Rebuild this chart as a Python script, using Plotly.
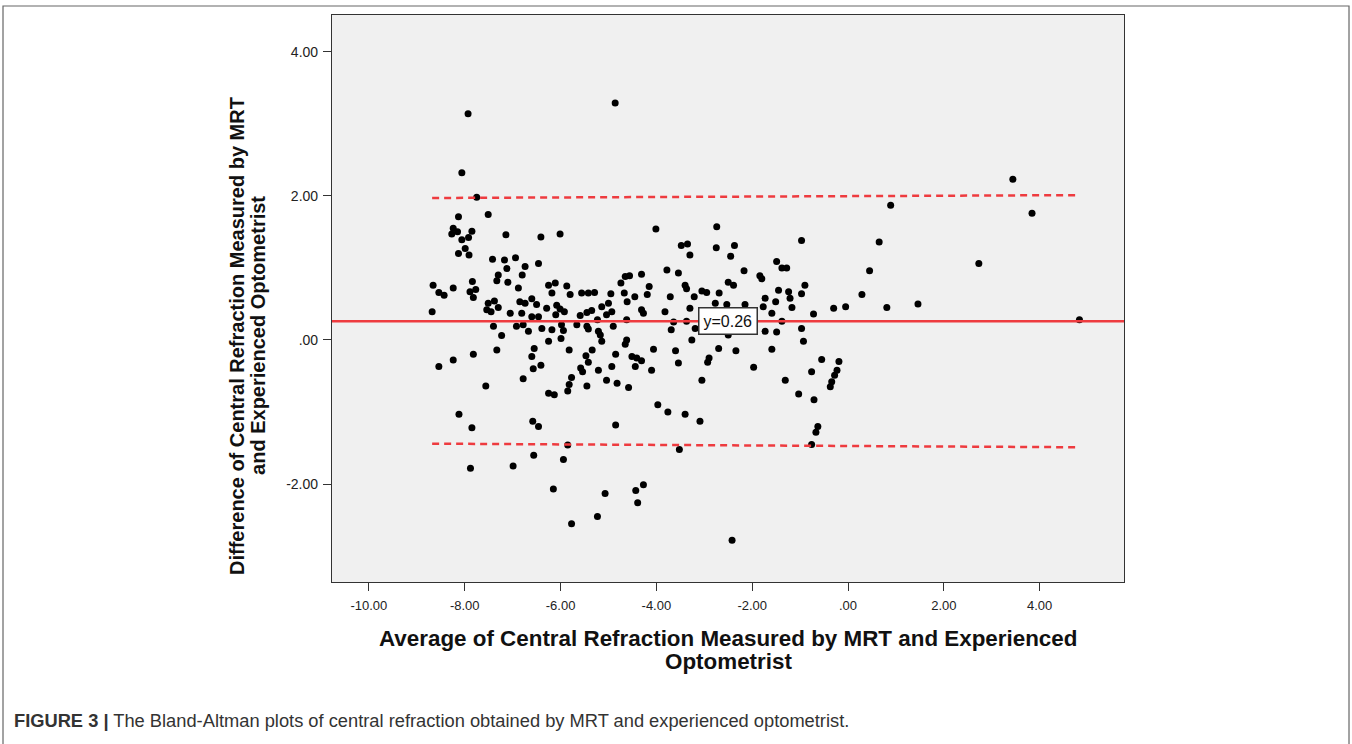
import plotly.graph_objects as go

# Average of central refraction (MRT & optometrist), D
avg_refraction = [
    -7.75, -8.13, -7.51, -8.24, -8.27, -8.15, -8.06, -7.92, -7.85, -7.99, -8.13, -7.91,
    -7.14, -6.41, -6.01, -4.01, -2.74, -3.48, -3.35, -3.30, -2.75, -2.37, -2.45, -0.97,
    -7.42, -7.17, -6.94, -6.46, -6.74, -7.12, -7.30, -7.33, -6.80, -7.10, -6.88, -7.84,
    -7.89, -7.77, -7.82, -8.66, -8.54, -8.43, -8.24, -3.78, -3.54, -2.17, -1.49, -1.38,
    -1.28, -1.84, -1.80,
    -6.25, -6.11, -6.18, -5.87, -5.80, -5.56, -5.42, -5.29, -4.95, -4.74, -4.65, -4.56,
    -4.31, -4.67, -4.61, -4.45, -4.15, -4.19, -3.40, -3.37, -3.21, -3.05, -2.95, -2.69,
    -2.50, -2.39, -3.71, -1.24, -1.45, -1.51, -1.21, -0.90, -0.97, -1.73, 0.29,
    -7.51, -7.38, -7.54, -7.30, -7.45, -6.85, -6.74, -6.60, -6.50, -7.05, -6.81, -6.60,
    -6.46, -6.29, -6.08, -6.01, -5.92, -6.10, -5.14, -5.00, -5.04, -4.93, -5.35, -5.45,
    -5.59, -4.31, -4.27, -3.82, -3.30, -2.77, -2.53, -2.15, -1.77, -1.59, -1.17, -0.72,
    -0.30, -0.05, -8.68,
    -7.40, -6.92, -6.78, -6.67, -6.39, -6.18, -5.98, -5.94, -5.99, -5.66, -5.45, -5.42,
    -5.23, -5.21, -5.17, -5.14, -4.90, -4.62, -3.64, -3.37, -3.19, -3.69, -3.26, -2.50,
    -1.73, -1.49, -1.38, -0.97, -0.93, -7.23,
    -6.25, -7.33, -7.82, -8.24, -8.54, -5.82, -6.60, -6.55, -6.41, -6.57, -5.34, -5.47,
    -5.42, -5.58, -5.54, -5.21, -4.85, -4.93, -4.62, -4.65, -4.51, -4.41, -4.31, -4.44,
    -4.10, -4.06, -3.60, -3.54, -2.70, -2.34, -2.90, -2.93, -1.59, -1.97, -0.55, -0.19,
    -0.23, -0.28, -0.34, -0.37, -0.76, -1.31,
    -6.78, -7.56, -5.77, -5.82, -5.85, -5.45, -5.04, -4.82, -4.58, -3.05, -6.25, -6.13,
    -8.12, -7.85, -6.58, -6.46, -4.85, -3.97, -3.76, -3.40, -3.09, -1.03, -0.71, -0.63,
    -0.67,
    -7.93, -8.06, -4.86,
    0.45, 0.65, 0.89, 0.81, 1.46, 2.73, 3.44, 3.84, 4.83,
    -6.56, -7.88, -6.99, -6.15, -5.85, -5.94, -3.52, -5.07, -4.43, -4.27, -4.39, -5.23,
    -5.77, -0.76, -2.42,
]

# Difference of central refraction (MRT - optometrist), D
diff_refraction = [
    1.98, 1.71, 1.74, 1.55, 1.47, 1.50, 1.39, 1.42, 1.51, 1.27, 1.20, 1.18,
    1.46, 1.43, 1.47, 1.54, 1.57, 1.31, 1.33, 1.18, 1.28, 1.31, 1.16, 1.38,
    1.12, 1.11, 1.14, 1.06, 1.02, 0.99, 0.90, 0.82, 0.90, 0.80, 0.72, 0.81,
    0.67, 0.70, 0.59, 0.76, 0.66, 0.62, 0.72, 0.97, 0.93, 0.96, 1.09, 1.00,
    1.00, 0.89, 0.85,
    0.76, 0.79, 0.65, 0.75, 0.63, 0.65, 0.65, 0.66, 0.64, 0.79, 0.88, 0.89,
    0.91, 0.65, 0.53, 0.60, 0.74, 0.63, 0.76, 0.71, 0.60, 0.68, 0.66, 0.65,
    0.80, 0.76, 0.60, 0.67, 0.69, 0.53, 0.58, 0.76, 0.64, 0.58, 0.63,
    0.51, 0.54, 0.42, 0.45, 0.39, 0.53, 0.51, 0.57, 0.49, 0.37, 0.37, 0.32,
    0.32, 0.44, 0.48, 0.43, 0.39, 0.35, 0.46, 0.51, 0.35, 0.39, 0.41, 0.38,
    0.34, 0.42, 0.37, 0.39, 0.44, 0.51, 0.49, 0.49, 0.46, 0.37, 0.45, 0.36,
    0.44, 0.46, 0.39,
    0.19, 0.19, 0.21, 0.12, 0.16, 0.14, 0.21, 0.13, 0.02, 0.21, 0.19, 0.15,
    0.28, 0.12, 0.07, -0.02, 0.19, 0.28, 0.25, 0.26, 0.16, 0.14, 0.00, 0.07,
    0.12, 0.11, 0.26, 0.16, -0.02, 0.06,
    -0.02, -0.14, -0.20, -0.28, -0.37, -0.14, -0.23, -0.12, -0.35, -0.40, -0.14, -0.22,
    -0.31, -0.39, -0.44, -0.42, -0.20, -0.37, 0.00, -0.06, -0.23, -0.25, -0.29, -0.37,
    -0.42, -0.13, -0.15, -0.32, -0.12, -0.15, -0.25, -0.31, -0.13, -0.38, -0.27, -0.30,
    -0.42, -0.49, -0.58, -0.65, -0.44, -0.56,
    -0.54, -0.64, -0.52, -0.62, -0.71, -0.64, -0.56, -0.60, -0.66, -0.56, -0.74, -0.76,
    -1.03, -1.22, -1.13, -1.20, -1.18, -0.90, -1.00, -1.03, -1.13, -0.75, -0.83, -1.20,
    -1.28,
    3.14, 2.32, 3.29,
    0.96, 1.36, 1.87, 0.45, 0.50, 1.06, 2.23, 1.76, 0.28,
    -1.60, -1.78, -1.75, -2.07, -1.46, -1.66, -1.52, -2.13, -2.09, -2.01, -2.26, -2.45,
    -2.55, -1.45, -2.78,
]

mean_diff = 0.26
upper_loa = [1.97, 2.01]   # value at left end, right end
lower_loa = [-1.44, -1.49]

x_ticks = [-10, -8, -6, -4, -2, 0, 2, 4]
x_tick_text = ["-10.00", "-8.00", "-6.00", "-4.00", "-2.00", ".00", "2.00", "4.00"]
y_ticks = [-2, 0, 2, 4]
y_tick_text = ["-2.00", ".00", "2.00", "4.00"]

x_title = ["Average of Central Refraction Measured by MRT and Experienced", "Optometrist"]
y_title = ["Difference of Central Refraction Measured by MRT", "and Experienced Optometrist"]
caption = ("<b>FIGURE 3 |</b> The Bland-Altman plots of central refraction "
           "obtained by MRT and experienced optometrist.")

RED = "#ee3b3f"
FONT = "Liberation Sans"

loa_x = [min(avg_refraction), max(avg_refraction)]

fig = go.Figure()
fig.add_trace(go.Scatter(
    x=avg_refraction, y=diff_refraction, mode="markers",
    marker=dict(color="black", size=7, line=dict(width=0)),
    showlegend=False, hoverinfo="skip",
))
for loa in (upper_loa, lower_loa):
    fig.add_trace(go.Scatter(x=loa_x, y=loa, mode="lines",
                             line=dict(color=RED, width=2.5, dash="7px,5px"),
                             showlegend=False, hoverinfo="skip"))

fig.add_shape(type="line", xref="paper", x0=0, x1=1, yref="y",
              y0=mean_diff, y1=mean_diff, line=dict(color=RED, width=2.5))

fig.add_annotation(x=-2.51, y=mean_diff, xref="x", yref="y",
                   text="y=%.2f" % mean_diff, showarrow=False,
                   bgcolor="white", bordercolor="#333", borderwidth=1.5,
                   borderpad=4, font=dict(family=FONT, size=16, color="#111"))

# x axis title (two lines, tight spacing)
for i, line in enumerate(x_title):
    fig.add_annotation(xref="paper", yref="paper", x=0.5, y=-0.0988 - i * 0.0406,
                       xanchor="center", yanchor="middle", showarrow=False,
                       text="<b>%s</b>" % line,
                       font=dict(family=FONT, size=22.4, color="#111"))
# y axis title (rotated, two lines)
for i, line in enumerate(y_title):
    fig.add_annotation(xref="paper", yref="paper", x=-0.1199 + i * 0.0265, y=0.434,
                       xanchor="center", yanchor="middle", showarrow=False,
                       textangle=-90, text="<b>%s</b>" % line,
                       font=dict(family=FONT, size=20, color="#111"))
# caption
fig.add_annotation(xref="paper", yref="paper", x=-0.404, y=-0.2434, xanchor="left",
                   yanchor="middle", showarrow=False, text=caption,
                   font=dict(family=FONT, size=18.3, color="#333"))
# outer frame of the figure panel
fig.add_shape(type="rect", xref="paper", yref="paper",
              x0=-0.4154, x1=1.2841, y0=-0.32, y1=1.0159,
              line=dict(color="#666", width=1.2), fillcolor="rgba(0,0,0,0)")

fig.update_layout(
    width=1352, height=744,
    margin=dict(l=332, r=228, t=15, b=162),
    paper_bgcolor="white", plot_bgcolor="#f0f0f0",
    font=dict(family=FONT, color="#222"),
    showlegend=False,
)
axis_style = dict(showgrid=False, zeroline=False, showline=True, mirror=True,
                  linecolor="#333", linewidth=1.2, ticks="outside", ticklen=8,
                  tickcolor="#333")
fig.update_xaxes(range=[-10.77, 5.76], tickvals=x_ticks, ticktext=x_tick_text,
                 ticklabelstandoff=3, tickfont=dict(family=FONT, size=13, color="#222"),
                 **axis_style)
fig.update_yaxes(range=[-3.36, 4.51], tickvals=y_ticks, ticktext=y_tick_text,
                 ticklabelstandoff=2, tickfont=dict(family=FONT, size=14, color="#222"),
                 **axis_style)

fig.write_html("out.html", config={"displayModeBar": False},
               post_script="document.body.style.margin='0px';")
